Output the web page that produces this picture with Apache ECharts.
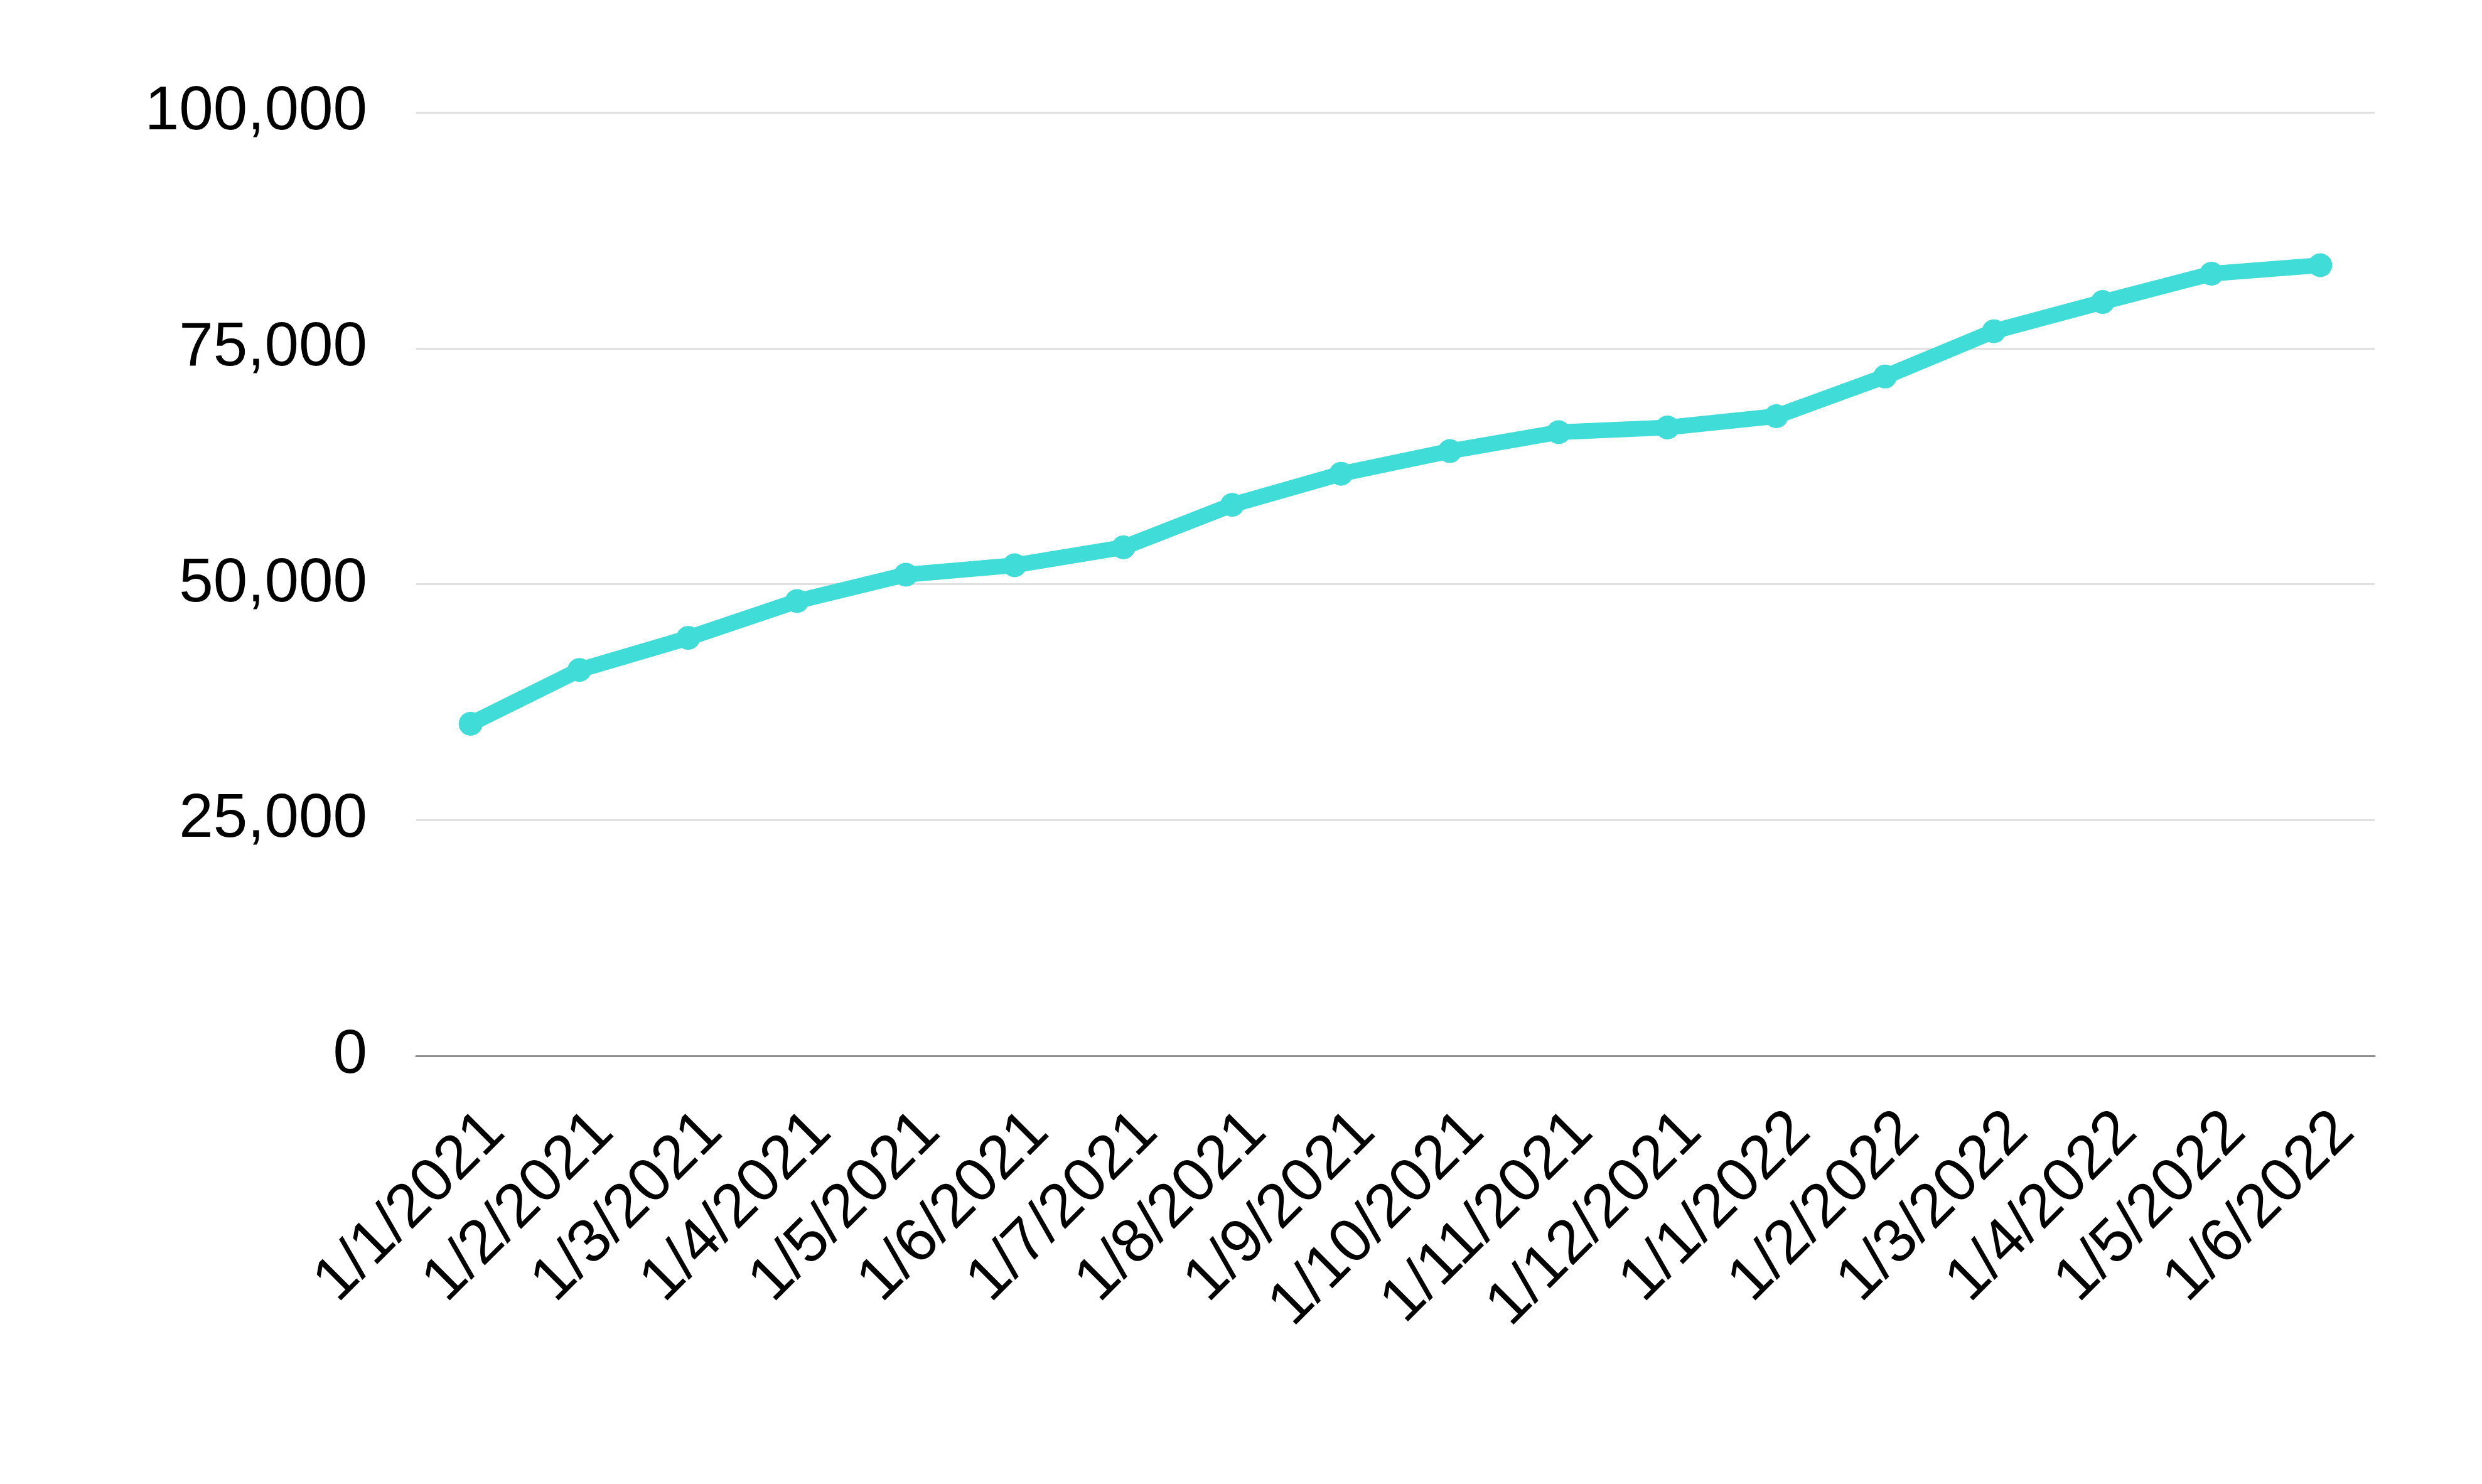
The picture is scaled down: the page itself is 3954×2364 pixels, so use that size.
<!DOCTYPE html>
<html>
<head>
<meta charset="utf-8">
<script src="https://cdn.jsdelivr.net/npm/echarts@6/dist/echarts.min.js"></script>
<style>
html,body{margin:0;padding:0;background:#fff;}
#chart{width:3954px;height:2364px;}
</style>
</head>
<body>
<div id="chart"></div>
<script>
const categories = ['1/1/2021','1/2/2021','1/3/2021','1/4/2021','1/5/2021','1/6/2021','1/7/2021','1/8/2021','1/9/2021','1/10/2021','1/11/2021','1/12/2021','1/1/2022','1/2/2022','1/3/2022','1/4/2022','1/5/2022','1/6/2022'];
const values = [35200, 40900, 44300, 48200, 51000, 52000, 53900, 58400, 61700, 64100, 66100, 66600, 67800, 72000, 76800, 79900, 82900, 83800];
const yTicks = [0, 25000, 50000, 75000, 100000];

const chart = echarts.init(document.getElementById('chart'));
chart.setOption({
  backgroundColor: '#ffffff',
  animation: false,
  grid: {left: 663, right: 171, top: 179, bottom: 682, containLabel: false},
  xAxis: {
    type: 'category',
    data: categories,
    boundaryGap: true,
    axisLine: {show: true, lineStyle: {color: '#8c8c8c', width: 3}},
    axisTick: {show: false},
    axisLabel: {
      interval: 0,
      rotate: 45,
      margin: 67,
      color: '#000000',
      fontFamily: 'Liberation Sans, Arial, sans-serif',
      fontSize: 98,
      verticalAlign: 'top',
      lineHeight: 110
    },
    splitLine: {show: false}
  },
  yAxis: {
    type: 'value',
    min: yTicks[0],
    max: yTicks[yTicks.length - 1],
    interval: 25000,
    axisLine: {show: false},
    axisTick: {show: false},
    axisLabel: {
      margin: 78,
      color: '#000000',
      fontFamily: 'Liberation Sans, Arial, sans-serif',
      fontSize: 98,
      formatter: v => v.toLocaleString('en-US')
    },
    splitLine: {show: true, lineStyle: {color: '#e0e0e0', width: 3}}
  },
  series: [{
    type: 'line',
    data: values,
    symbol: 'circle',
    symbolSize: 38,
    showSymbol: true,
    lineStyle: {color: '#40dcd7', width: 25},
    itemStyle: {color: '#40dcd7'},
    z: 5
  }]
});
</script>
</body>
</html>
